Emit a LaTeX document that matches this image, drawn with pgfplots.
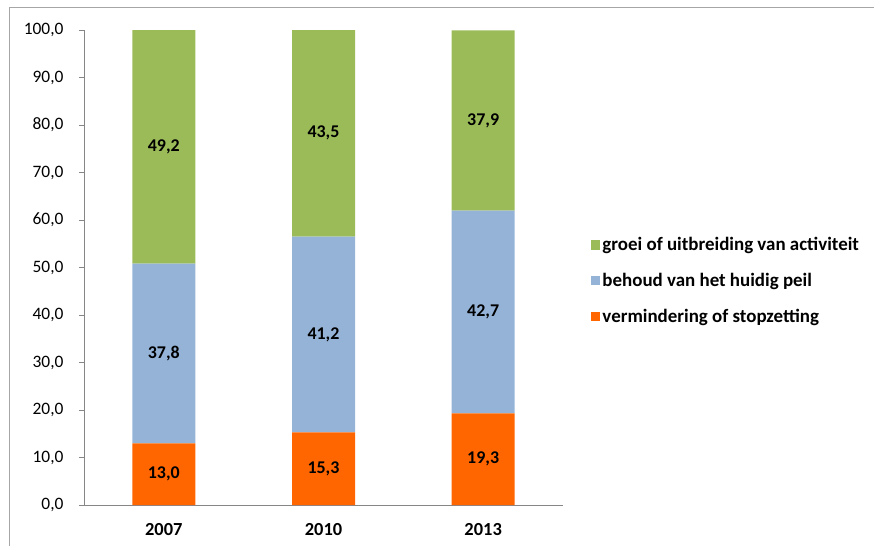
\documentclass[border=0pt]{standalone}
\usepackage{fontspec}
\setmainfont{Carlito}
\usepackage{pgfplots}
\pgfplotsset{compat=1.18}

\definecolor{cgreen}{RGB}{155,187,89}
\definecolor{cblue}{RGB}{149,179,215}
\definecolor{corange}{RGB}{255,102,0}
\definecolor{caxis}{RGB}{134,134,134}

\pgfplotstableread{
x  low  mid  high
0  13.0 37.8 49.2
1  15.3 41.2 43.5
2  19.3 42.7 37.9
}\data

\begin{document}
\begin{tikzpicture}
\useasboundingbox (0,0) rectangle (874bp,-546bp);
\draw[gray!70, line width=0.8bp] (9bp,-560bp) -- (9bp,-7.5bp) -- (890bp,-7.5bp);
\begin{axis}[
    at={(84bp,-505bp)}, anchor=south west,
    scale only axis,
    width=479bp, height=475bp,
    xmin=-0.5, xmax=2.5,
    ymin=0, ymax=100,
    ybar stacked,
    bar width=63bp,
    axis x line*=bottom,
    axis y line*=left,
    axis line style={caxis, line width=0.8bp},
    xtick={0,1,2},
    xticklabels={2007,2010,2013},
    x tick label style={font=\bfseries\fontsize{18.5}{20}\selectfont, yshift=-10bp},
    extra x ticks={-0.5,0.5,1.5,2.5},
    extra x tick labels={},
    extra x tick style={major tick length=6bp, tick style={caxis, line width=0.8bp},
        tick align=outside, xtick pos=bottom},
    major x tick style={draw=none},
    ytick={0,10,...,100},
    y tick label style={font=\fontsize{17.5}{19}\selectfont},
    yticklabel={\pgfmathprintnumber[fixed, fixed zerofill, precision=1, use comma]{\tick}},
    /pgf/number format/assume math mode=true,
    ytick style={caxis, line width=0.8bp},
    tick align=outside,
    major tick length=5bp,
    yticklabel style={xshift=-12bp},
    nodes near coords={\pgfmathprintnumber[fixed, fixed zerofill, precision=1, use comma]{\pgfplotspointmeta}},
    nodes near coords style={font=\bfseries\fontsize{18}{20}\selectfont, anchor=center, black},
    point meta=explicit,
    legend style={at={(1.058,0.568)}, anchor=north west, draw=none, fill=none,
        font=\bfseries\fontsize{19}{21}\selectfont, row sep=17bp,
        inner sep=0pt, legend cell align=left,
        nodes={inner sep=2bp}},
    legend image code/.code={\fill[#1] (-3bp,-4.8bp) rectangle (6.5bp,4.8bp);},
    reverse legend,
    clip=false,
]
\addplot+[draw=none, fill=corange] table[x=x, y=low, meta=low] {\data};
\addlegendentry{vermindering of stopzetting}
\addplot+[draw=none, fill=cblue] table[x=x, y=mid, meta=mid] {\data};
\addlegendentry{behoud van het huidig peil}
\addplot+[draw=none, fill=cgreen] table[x=x, y=high, meta=high] {\data};
\addlegendentry{groei of uitbreiding van activiteit}
\end{axis}
\end{tikzpicture}
\end{document}
